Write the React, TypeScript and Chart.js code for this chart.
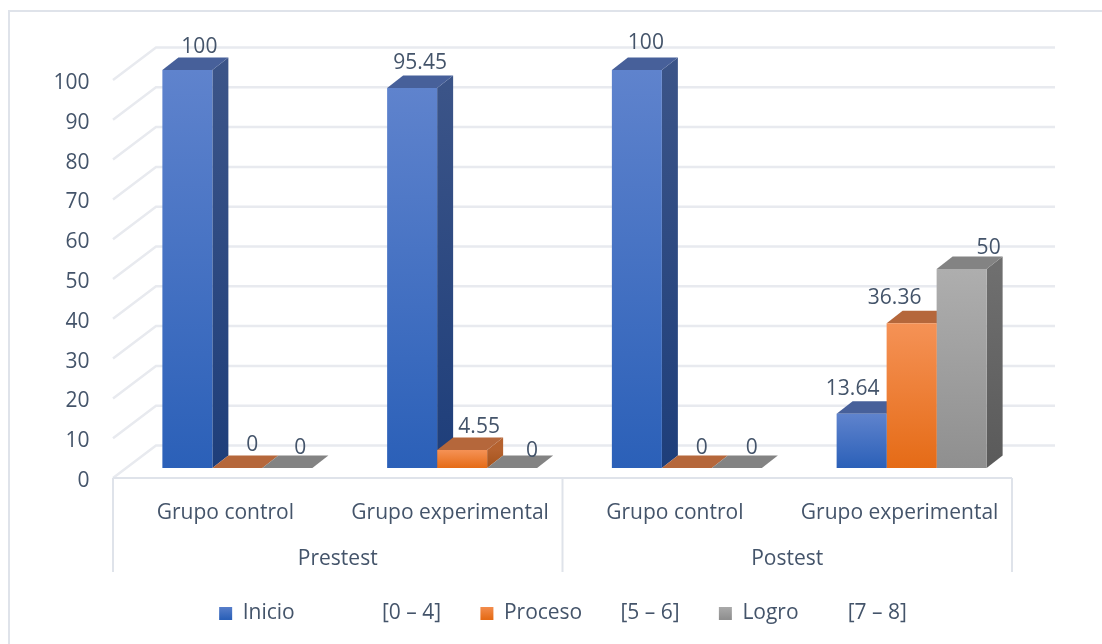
import React, { useEffect, useRef } from "react";
import { Chart, registerables } from "chart.js";

Chart.register(...registerables);

// ---- data ----
const categories = ["Grupo control", "Grupo experimental", "Grupo control", "Grupo experimental"];
const groups = ["Prestest", "Postest"];
const seriesNames = [
  "Inicio                [0 – 4]     ",
  "Proceso       [5 – 6]     ",
  "Logro         [7 – 8]",
];
const inicio = [100, 95.45, 100, 13.64];
const proceso = [0, 4.55, 0, 36.36];
const logro = [0, 0, 0, 50];
const yTicks = [0, 10, 20, 30, 40, 50, 60, 70, 80, 90, 100];

// ---- styling ----
const FONT = "'Open Sans'";
const TEXT = "#44546a";
const GRID = "#e8eaef";
const AXIS = "#dfe3ea";
const palettes = [
  { top: "#47609a", sideA: "#3b5488", sideB: "#1e3e7a", frontA: "#5f83cd", frontB: "#2b60b8" },
  { top: "#b5673b", sideA: "#b5622f", sideB: "#a4521a", frontA: "#f59256", frontB: "#e56b16" },
  { top: "#838383", sideA: "#6f6f6f", sideB: "#5a5a5a", frontA: "#aeaeae", frontB: "#8f8f8f" },
];
// bars stand in a plane set back from the axis plane
const PLANE_DX = 12;
const PLANE_DY = -10;
const DEPTH_DX = 16;
const DEPTH_DY = -12.5;
const WALL_DX = 43;
const WALL_DY = -32.5;
// label offsets from each bar's top-centre, [series][category]
const labelNudge = [
  [[12, -23], [8, -25], [9, -27], [-9, -25]],
  [[15, -23], [17, -23], [15, -20], [-17, -25]],
  [[13, -20], [20, -17], [15, -20], [27, -21]],
];

function frontGradient(ctx: CanvasRenderingContext2D, top: number, bottom: number, a: string, b: string) {
  const g = ctx.createLinearGradient(0, top, 0, bottom);
  g.addColorStop(0, a);
  g.addColorStop(1, b);
  return g;
}

const frame3d = {
  id: "frame3d",
  beforeDraw(chart: any) {
    const { ctx, chartArea, scales } = chart;
    const { left, right, bottom } = chartArea;
    ctx.save();
    // picture border
    ctx.strokeStyle = AXIS;
    ctx.lineWidth = 2;
    ctx.beginPath();
    ctx.moveTo(9, 644);
    ctx.lineTo(9, 11);
    ctx.lineTo(1102, 11);
    ctx.stroke();
    // walls
    ctx.strokeStyle = GRID;
    ctx.lineWidth = 2.5;
    yTicks.forEach((v) => {
      const y = scales.y.getPixelForValue(v);
      ctx.beginPath();
      ctx.moveTo(left, y);
      ctx.lineTo(left + WALL_DX, y + WALL_DY);
      ctx.lineTo(right + WALL_DX, y + WALL_DY);
      ctx.stroke();
    });
    // floor line and category separators
    ctx.strokeStyle = AXIS;
    ctx.lineWidth = 2;
    ctx.beginPath();
    ctx.moveTo(left, bottom);
    ctx.lineTo(right, bottom);
    const mid = (left + right) / 2;
    [left, mid, right].forEach((x) => {
      ctx.moveTo(x, bottom);
      ctx.lineTo(x, bottom + 94);
    });
    ctx.stroke();
    ctx.restore();
  },
  beforeDatasetsDraw(chart: any) {
    const { ctx } = chart;
    ctx.save();
    ctx.translate(PLANE_DX, PLANE_DY);
    // side and top faces, left to right
    categories.forEach((_, c) => {
      palettes.forEach((p, s) => {
        const bar = chart.getDatasetMeta(s).data[c];
        const x0 = bar.x - bar.width / 2;
        const x1 = bar.x + bar.width / 2;
        const yT = bar.y;
        const yB = bar.base;
        if (yB - yT > 0.5) {
          ctx.fillStyle = frontGradient(ctx, yT, yB, p.sideA, p.sideB);
          ctx.beginPath();
          ctx.moveTo(x1, yB);
          ctx.lineTo(x1 + DEPTH_DX, yB + DEPTH_DY);
          ctx.lineTo(x1 + DEPTH_DX, yT + DEPTH_DY);
          ctx.lineTo(x1, yT);
          ctx.closePath();
          ctx.fill();
        }
        ctx.fillStyle = p.top;
        ctx.beginPath();
        ctx.moveTo(x0, yT);
        ctx.lineTo(x1, yT);
        ctx.lineTo(x1 + DEPTH_DX, yT + DEPTH_DY);
        ctx.lineTo(x0 + DEPTH_DX, yT + DEPTH_DY);
        ctx.closePath();
        ctx.fill();
      });
    });
    ctx.restore();
  },
  beforeDatasetDraw(chart: any) {
    chart.ctx.save();
    chart.ctx.translate(PLANE_DX, PLANE_DY);
  },
  afterDatasetDraw(chart: any) {
    chart.ctx.restore();
  },
  afterDatasetsDraw(chart: any) {
    const { ctx } = chart;
    ctx.save();
    ctx.font = `21px ${FONT}`;
    ctx.fillStyle = TEXT;
    ctx.textAlign = "center";
    ctx.textBaseline = "middle";
    chart.data.datasets.forEach((ds: any, s: number) => {
      chart.getDatasetMeta(s).data.forEach((bar: any, c: number) => {
        const [dx, dy] = labelNudge[s][c];
        ctx.fillText(String(ds.data[c]), bar.x + PLANE_DX + dx, bar.y + PLANE_DY + dy);
      });
    });
    ctx.restore();
  },
};

export default function App() {
  const ref = useRef<HTMLCanvasElement>(null);
  useEffect(() => {
    const canvas = ref.current!;
    const ctx = canvas.getContext("2d")!;
    const swatch = (i: number) => frontGradient(ctx, 605, 619, palettes[i].frontA, palettes[i].frontB);
    const barFill = (i: number) => (c: any) => {
      const y = c.chart.scales.y;
      const value = c.raw == null ? 0 : c.raw;
      const top = y.getPixelForValue(value);
      const base = y.getPixelForValue(0);
      return frontGradient(ctx, top, Math.max(base, top + 1), palettes[i].frontA, palettes[i].frontB);
    };
    const chart = new Chart(canvas, {
      type: "bar",
      data: {
        labels: categories,
        datasets: [inicio, proceso, logro].map((data, i) => ({
          label: seriesNames[i],
          data,
          backgroundColor: barFill(i),
          borderWidth: 0,
          categoryPercentage: 150 / 224.75,
          barPercentage: 1,
          clip: false as any,
        })),
      },
      plugins: [frame3d],
      options: {
        responsive: false,
        animation: false,
        devicePixelRatio: 1,
        layout: { padding: { top: 80, left: 24, right: 0, bottom: 10 } },
        plugins: {
          tooltip: { enabled: false },
          legend: {
            position: "bottom",
            labels: {
              color: TEXT,
              font: { family: FONT, size: 21 },
              boxWidth: 13,
              boxHeight: 13,
              padding: 12,
              generateLabels: () =>
                seriesNames.map((text, i) => ({
                  text,
                  fillStyle: swatch(i),
                  strokeStyle: "transparent",
                  lineWidth: 0,
                  datasetIndex: i,
                  fontColor: TEXT,
                })),
            },
          },
        },
        scales: {
          // value scale the bars are measured on
          y: {
            min: 0,
            max: 100,
            display: false,
          },
          // the printed value axis, its text sitting slightly lower than the tick
          yAxis: {
            type: "linear",
            position: "left",
            min: 0.75,
            max: 100.75,
            afterFit: (s: any) => {
              s.width = 89;
              s.paddingTop = 0;
              s.paddingBottom = 0;
            },
            afterBuildTicks: (s: any) => {
              s.ticks = yTicks.map((value) => ({ value }));
            },
            grid: { display: false },
            border: { display: false },
            ticks: { color: TEXT, font: { family: FONT, size: 21 }, padding: 15.5, autoSkip: false },
          },
          // reserves the empty band right of the plot
          yRight: {
            type: "linear",
            position: "right",
            min: 0,
            max: 100,
            afterFit: (s: any) => {
              s.width = 90;
              s.paddingTop = 0;
              s.paddingBottom = 0;
            },
            grid: { display: false },
            border: { display: false },
            ticks: { display: false },
          },
          x: {
            weight: 1,
            afterFit: (s: any) => {
              s.height = 56.5;
              s.paddingLeft = 0;
              s.paddingRight = 0;
            },
            grid: { display: false },
            border: { display: false },
            ticks: { color: TEXT, font: { family: FONT, size: 21 }, padding: 14, maxRotation: 0, autoSkip: false },
          },
          x2: {
            type: "category",
            position: "bottom",
            axis: "x",
            weight: 2,
            labels: groups,
            offset: true,
            afterFit: (s: any) => {
              s.height = 56.5;
              s.paddingLeft = 0;
              s.paddingRight = 0;
            },
            grid: { display: false },
            border: { display: false },
            ticks: { color: TEXT, font: { family: FONT, size: 21 }, padding: 3.5, maxRotation: 0, autoSkip: false },
          },
        } as any,
      },
    } as any);
    return () => chart.destroy();
  }, []);
  return (
    <div style={{ position: "fixed", left: 0, top: 0, width: 1102, height: 644, background: "#fff" }}>
      <canvas ref={ref} width={1102} height={644} style={{ display: "block", width: 1102, height: 644, filter: "blur(0.4px)" }} />
    </div>
  );
}
